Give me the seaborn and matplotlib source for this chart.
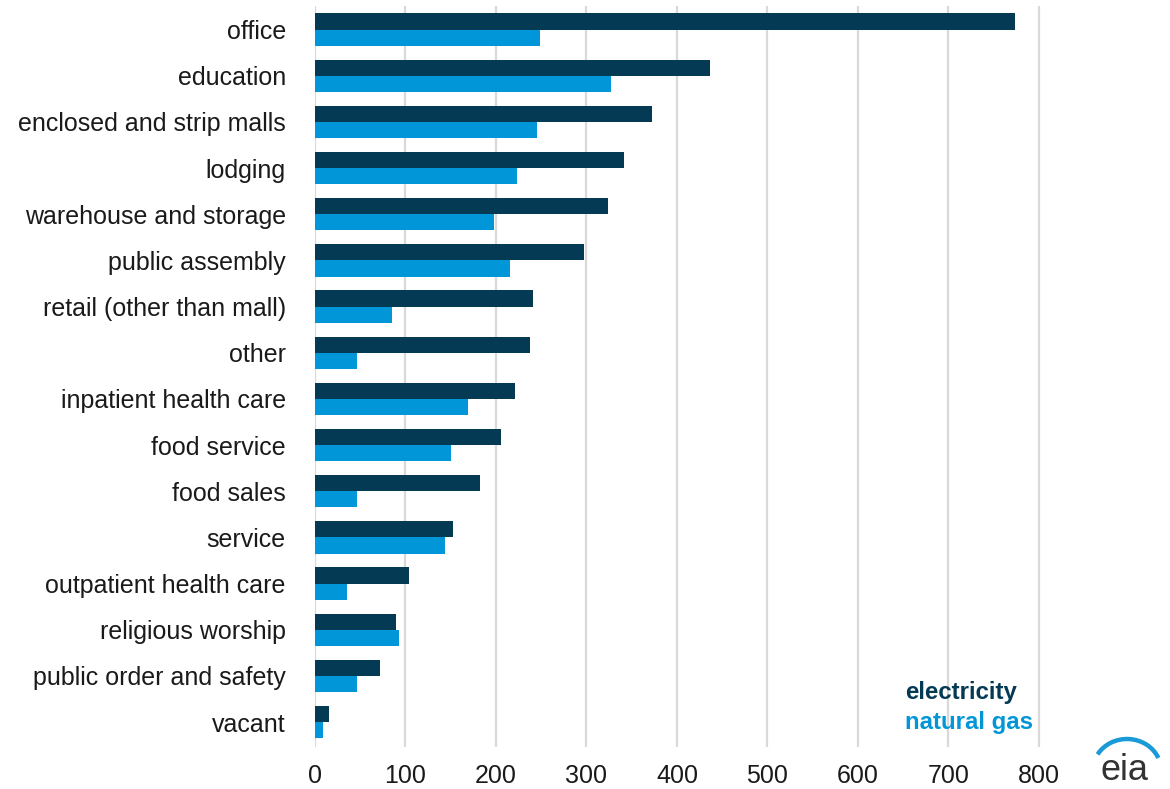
import matplotlib
matplotlib.use("Agg")
import matplotlib.pyplot as plt
from matplotlib.patches import Arc
import seaborn as sns
import pandas as pd

# Commercial building energy consumption by building type (trillion Btu)
categories = [
    "office", "education", "enclosed and strip malls", "lodging",
    "warehouse and storage", "public assembly", "retail (other than mall)",
    "other", "inpatient health care", "food service", "food sales",
    "service", "outpatient health care", "religious worship",
    "public order and safety", "vacant",
]
electricity = [774, 436, 372, 341, 324, 297, 241, 238, 221, 206, 182, 152, 104, 89, 72, 16]
natural_gas = [249, 327, 245, 223, 198, 215, 85, 47, 169, 150, 46, 144, 35, 93, 46, 9]
x_ticks = [0, 100, 200, 300, 400, 500, 600, 700, 800]

series_names = ["electricity", "natural gas"]
colors = {"electricity": "#053a55", "natural gas": "#0096d7"}

df = pd.concat([
    pd.DataFrame({"category": categories, "value": electricity, "fuel": "electricity"}),
    pd.DataFrame({"category": categories, "value": natural_gas, "fuel": "natural gas"}),
])

sns.set_theme(style="white")
plt.rcParams["font.family"] = ["Liberation Sans", "DejaVu Sans"]

fig = plt.figure(figsize=(11.70, 7.89), dpi=100)
ax = fig.add_axes([0.2692, 0.0532, 0.642, 0.9392])

sns.barplot(
    data=df, y="category", x="value", hue="fuel", orient="h",
    order=categories, hue_order=series_names, palette=colors,
    width=0.7, saturation=1, legend=False, ax=ax, linewidth=0,
)

ax.set_xlim(0, 830)
ax.set_ylim(15.54, -0.51)
ax.set_xticks(x_ticks)
ax.set_xticklabels([str(t) for t in x_ticks])
ax.set_xlabel("")
ax.set_ylabel("")
for s in ax.spines.values():
    s.set_visible(False)
ax.grid(axis="x", color="#d9d9d9", linewidth=1.6)
ax.grid(axis="y", visible=False)
ax.set_axisbelow(True)
ax.tick_params(axis="y", length=0, pad=21, labelsize=18, labelcolor="#1a1a1a")
ax.tick_params(axis="x", length=0, pad=12, labelsize=18, labelcolor="#1a1a1a")

# Series labels in place of a legend box
fig.text(905 / 1170, 1 - 693 / 789, "electricity", color=colors["electricity"],
         fontsize=17.3, fontweight="bold", va="center", ha="left")
fig.text(905 / 1170, 1 - 722 / 789, "natural gas", color=colors["natural gas"],
         fontsize=17.3, fontweight="bold", va="center", ha="left")

# eia logo
fig.text(1125 / 1170, 1 - 780 / 789, "eia", color="#333333", fontsize=26,
         ha="center", va="baseline")
logo_ax = fig.add_axes([1090 / 1170, 1 - 790 / 789, 80 / 1170, 80 / 789])
logo_ax.set_xlim(0, 80)
logo_ax.set_ylim(0, 80)
logo_ax.axis("off")
logo_ax.add_patch(Arc((37, 20), 68, 62, theta1=21, theta2=152,
                      color="#1a9ad6", linewidth=3.2))

fig.savefig("out.png", dpi=100)
